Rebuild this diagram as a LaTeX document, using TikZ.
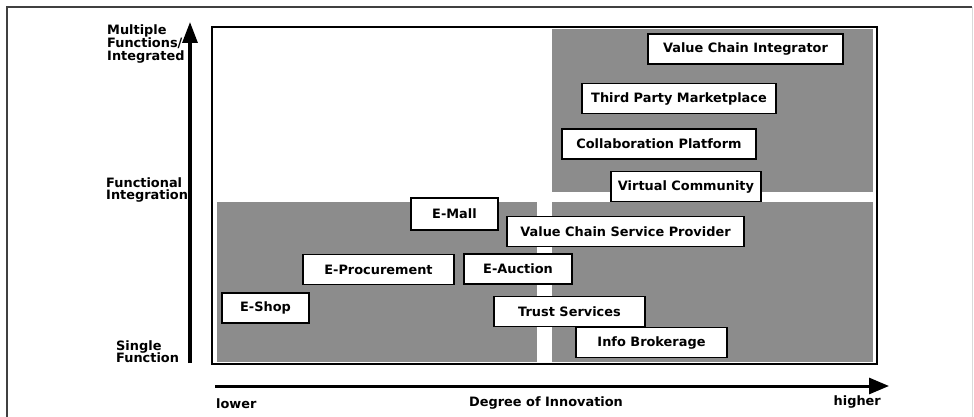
\documentclass[tikz,border=0pt]{standalone}
\usepackage{fontspec}
\setmainfont{DejaVu Sans}
\usetikzlibrary{arrows.meta}
\definecolor{quad}{RGB}{140,140,140}
\tikzset{
  x=1pt, y=-1pt,
  box/.style={draw=black, fill=white, line width=1.6pt, inner sep=0pt,
    minimum height=30pt, font=\fontsize{12.9}{13}\selectfont\bfseries},
  axlabel/.style={inner sep=0pt, align=left, font=\fontsize{12.9}{12.8}\selectfont\bfseries},
  quadrant/.style={fill=quad, draw=none},
  axis/.style={line width=3.2pt, -{Triangle[width=15pt,length=21pt]}}
}
\begin{document}
\begin{tikzpicture}
\useasboundingbox (0,0) rectangle (974,417);
\fill[white] (0,0) rectangle (974,417);
% outer frame
\draw[line width=1.4pt, draw=black!75] (7,430) -- (7,7) -- (972,7);
\draw[line width=0.6pt, draw=black!15] (972,7) -- (972,430);
% quadrants
\fill[quadrant] (217,202) rectangle (537,362);
\fill[quadrant] (552,29) rectangle (873,192);
\fill[quadrant] (552,202) rectangle (873,362);
% inner box
\draw[line width=1.8pt] (212,27) rectangle (877,364);
% axes
\coordinate (ybot) at (190,363);
\coordinate (ytop) at (190,22);
\coordinate (xl) at (215,386);
\coordinate (xr) at (889,386);
\draw[axis] (ybot) -- (ytop);
\draw[line width=3pt, -{Triangle[width=16pt,length=20pt]}] (xl) -- (xr);
% axis labels
\node[axlabel, anchor=north west] (mfi) at (107,25) {Multiple\\Functions/\\Integrated};
\node[axlabel, anchor=north west] (fi) at (106,177) {Functional\\Integration};
\node[axlabel, anchor=north west] (sf) at (116,340) {Single\\Function};
\node[axlabel, anchor=base west] (low) at (216,408) {lower};
\node[axlabel, anchor=base] (doi) at (546,406) {Degree of Innovation};
\node[axlabel, anchor=base east] (high) at (881,405) {higher};
% nodes
\node[box, minimum width=195pt] (vci) at (745.5,49) {Value Chain Integrator};
\node[box, minimum width=194pt] (tpm) at (679,98.5) {Third Party Marketplace};
\node[box, minimum width=194pt] (cp) at (659,144) {Collaboration Platform};
\node[box, minimum width=150pt] (vc) at (686,186.5) {Virtual Community};
\node[box, minimum width=87pt, minimum height=32pt] (emall) at (454.5,214) {E-Mall};
\node[box, minimum width=237pt] (vcsp) at (625.5,231.5) {Value Chain Service Provider};
\node[box, minimum width=151pt] (eproc) at (378.5,269.5) {E-Procurement};
\node[box, minimum width=108pt] (eauc) at (518,269) {E-Auction};
\node[box, minimum width=87pt] (eshop) at (265.5,308) {E-Shop};
\node[box, minimum width=151pt] (trust) at (569.5,311.5) {Trust Services};
\node[box, minimum width=151pt] (info) at (651.5,342.5) {Info Brokerage};
\end{tikzpicture}
\end{document}
